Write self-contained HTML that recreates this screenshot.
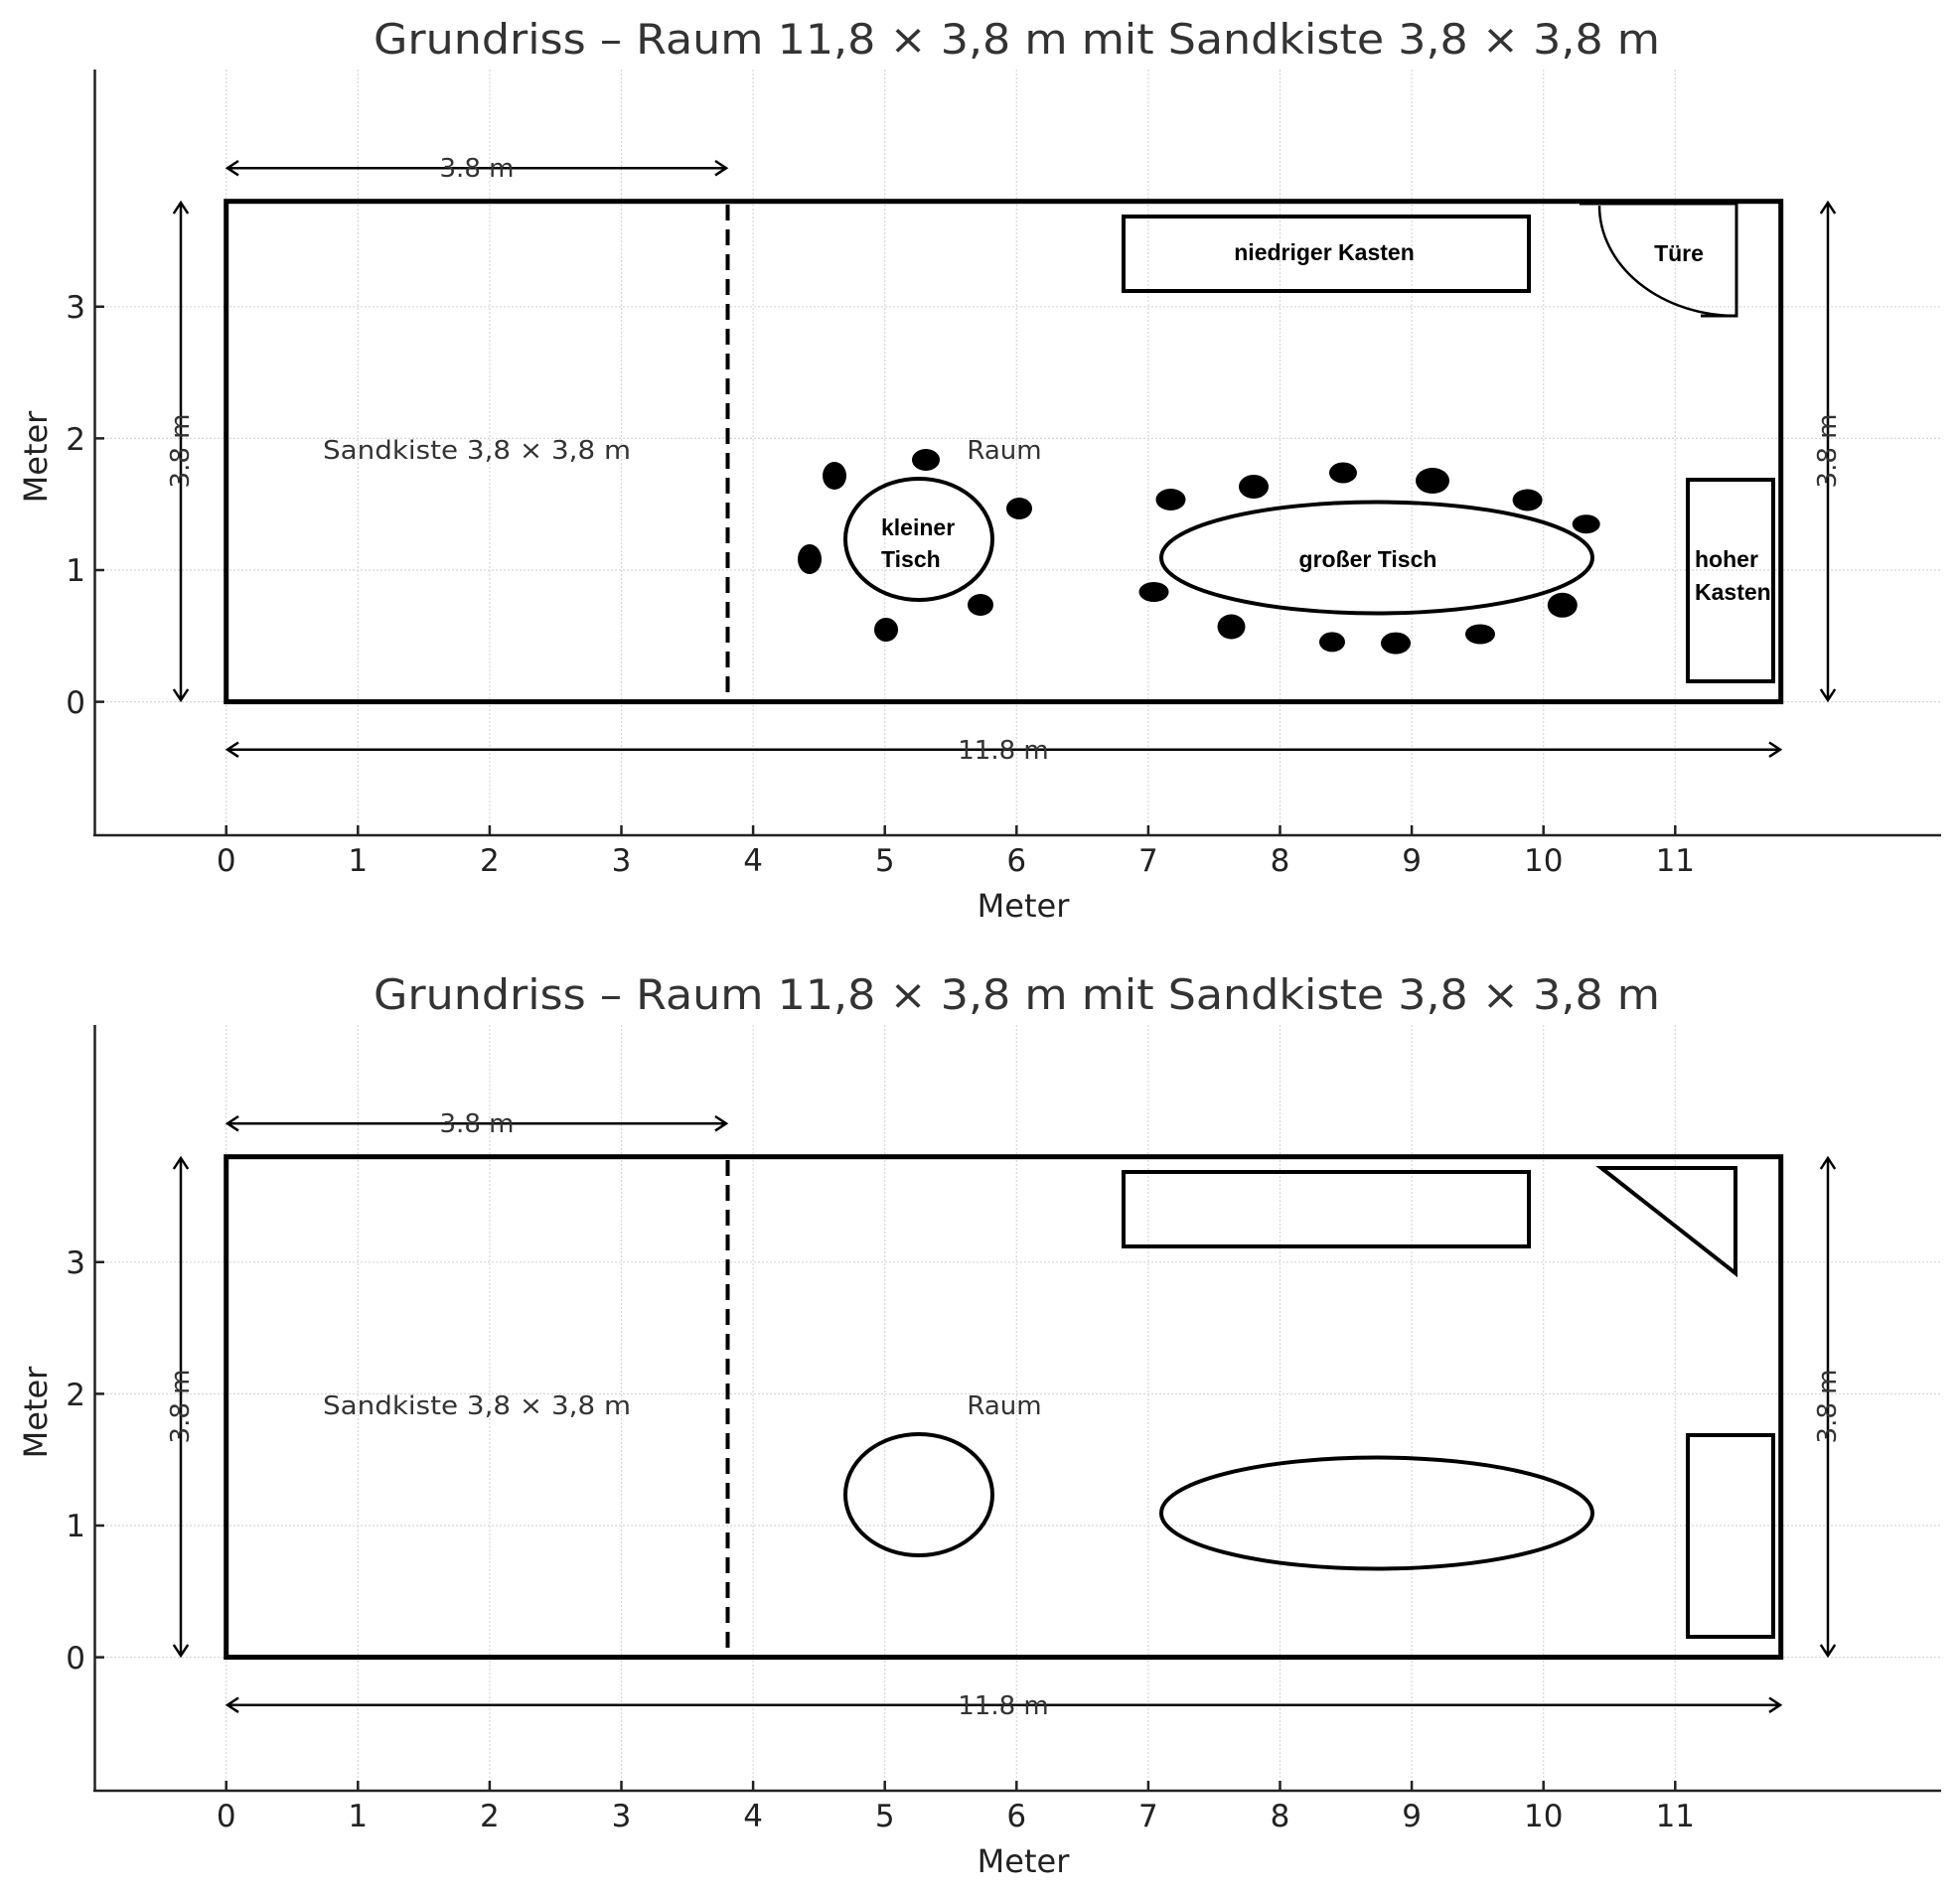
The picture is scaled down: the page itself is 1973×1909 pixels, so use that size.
<!DOCTYPE html>
<html><head><meta charset="utf-8"><style>
html,body{margin:0;padding:0;background:#fff;}
svg{display:block;}
text{font-family:"DejaVu Sans","Liberation Sans",sans-serif;}
.b{font-family:"Liberation Sans",sans-serif;font-weight:bold;font-size:23px;fill:#000;}
</style></head><body>
<svg width="1973" height="1909" viewBox="0 0 1973 1909" xmlns="http://www.w3.org/2000/svg">
<defs>
<g id="axes">
  <g stroke="#d8d8d8" stroke-width="1.2" stroke-dasharray="2,2">
    <line x1="227.7" y1="70" x2="227.7" y2="841"/><line x1="360.3" y1="70" x2="360.3" y2="841"/>
    <line x1="492.9" y1="70" x2="492.9" y2="841"/><line x1="625.5" y1="70" x2="625.5" y2="841"/>
    <line x1="758.1" y1="70" x2="758.1" y2="841"/><line x1="890.7" y1="70" x2="890.7" y2="841"/>
    <line x1="1023.3" y1="70" x2="1023.3" y2="841"/><line x1="1155.9" y1="70" x2="1155.9" y2="841"/>
    <line x1="1288.5" y1="70" x2="1288.5" y2="841"/><line x1="1421.1" y1="70" x2="1421.1" y2="841"/>
    <line x1="1553.7" y1="70" x2="1553.7" y2="841"/><line x1="1686.3" y1="70" x2="1686.3" y2="841"/>
    <line x1="95" y1="706.6" x2="1954" y2="706.6"/><line x1="95" y1="574" x2="1954" y2="574"/>
    <line x1="95" y1="441.4" x2="1954" y2="441.4"/><line x1="95" y1="308.8" x2="1954" y2="308.8"/>
  </g>
  <g stroke="#222" stroke-width="2.5" fill="none">
    <line x1="95.5" y1="70" x2="95.5" y2="842"/>
    <line x1="94" y1="841" x2="1954" y2="841"/>
    <path d="M227.7 841v-10M360.3 841v-10M492.9 841v-10M625.5 841v-10M758.1 841v-10M890.7 841v-10M1023.3 841v-10M1155.9 841v-10M1288.5 841v-10M1421.1 841v-10M1553.7 841v-10M1686.3 841v-10"/>
    <path d="M95 706.6h10M95 574h10M95 441.4h10M95 308.8h10"/>
  </g>
  <g font-size="31" fill="#222" text-anchor="middle">
    <text x="227.7" y="877">0</text><text x="360.3" y="877">1</text><text x="492.9" y="877">2</text>
    <text x="625.5" y="877">3</text><text x="758.1" y="877">4</text><text x="890.7" y="877">5</text>
    <text x="1023.3" y="877">6</text><text x="1155.9" y="877">7</text><text x="1288.5" y="877">8</text>
    <text x="1421.1" y="877">9</text><text x="1553.7" y="877">10</text><text x="1686.3" y="877">11</text>
  </g>
  <g font-size="31" fill="#222" text-anchor="end">
    <text x="86" y="718">0</text><text x="86" y="585">1</text><text x="86" y="453">2</text><text x="86" y="320">3</text>
  </g>
  <text x="1030" y="923" font-size="32" fill="#222" text-anchor="middle">Meter</text>
  <text transform="translate(47,460) rotate(-90)" font-size="32" fill="#222" text-anchor="middle">Meter</text>
  <text x="1023.5" y="54" font-size="42" fill="#333" text-anchor="middle" textLength="1295" lengthAdjust="spacingAndGlyphs">Grundriss – Raum 11,8 × 3,8 m mit Sandkiste 3,8 × 3,8 m</text>
  <rect x="227.7" y="202.7" width="1565" height="503.9" fill="none" stroke="#000" stroke-width="5"/>
  <line x1="732.5" y1="206" x2="732.5" y2="706" stroke="#000" stroke-width="4" stroke-dasharray="16,9"/>
  <g stroke="#000" stroke-width="2.5" fill="none">
    <line x1="229" y1="169.2" x2="731" y2="169.2"/>
    <path d="M240 162l-11 7.2 11 7.2M720 162l11 7.2-11 7.2"/>
    <line x1="229" y1="754.7" x2="1792" y2="754.7"/>
    <path d="M240 747.5l-11 7.2 11 7.2M1781 747.5l11 7.2-11 7.2"/>
    <line x1="182" y1="204" x2="182" y2="705"/>
    <path d="M174.8 215l7.2-11 7.2 11M174.8 694l7.2 11 7.2-11"/>
    <line x1="1840" y1="204" x2="1840" y2="705"/>
    <path d="M1832.8 215l7.2-11 7.2 11M1832.8 694l7.2 11 7.2-11"/>
  </g>
  <g font-size="26" fill="#333" text-anchor="middle">
    <text x="480" y="178">3.8 m</text>
    <text x="1010" y="764">11.8 m</text>
    <text transform="translate(190,454) rotate(-90)">3.8 m</text>
    <text transform="translate(1848,454) rotate(-90)">3.8 m</text>
    <text x="480" y="462" textLength="310" lengthAdjust="spacingAndGlyphs">Sandkiste 3,8 × 3,8 m</text>
    <text x="1011" y="462">Raum</text>
  </g>
  <g fill="none" stroke="#000" stroke-width="4">
    <rect x="1131" y="218" width="408" height="75"/>
    <rect x="1699" y="483" width="86" height="203"/>
    <ellipse cx="1386" cy="561.5" rx="217" ry="56"/>
    <ellipse cx="925" cy="543" rx="74" ry="61"/>
  </g>
</g>
</defs>
<use href="#axes"/>
<use href="#axes" transform="translate(0,962)"/>
<g fill="none" stroke="#000" stroke-width="3">
  <path d="M1590 205H1748V318H1712"/>
  <path d="M1610 207A138 111 0 0 0 1748 318" stroke-width="2.5"/>
</g>
<g fill="#000">
  <ellipse cx="840" cy="479" rx="12" ry="14"/><ellipse cx="932" cy="463" rx="14" ry="11"/>
  <ellipse cx="1026" cy="512" rx="13" ry="11"/><ellipse cx="815" cy="563" rx="12" ry="15"/>
  <ellipse cx="987" cy="609" rx="13" ry="11"/><ellipse cx="892" cy="634" rx="12" ry="12"/>
  <ellipse cx="1178.5" cy="503" rx="15" ry="11"/><ellipse cx="1262" cy="490" rx="15" ry="12"/>
  <ellipse cx="1352" cy="476" rx="14" ry="10.5"/><ellipse cx="1442" cy="484" rx="17" ry="13"/>
  <ellipse cx="1537.6" cy="503.5" rx="15" ry="11"/><ellipse cx="1596.7" cy="527.7" rx="14" ry="9.5"/>
  <ellipse cx="1161.5" cy="596" rx="15" ry="10"/><ellipse cx="1239.5" cy="631" rx="14" ry="12.5"/>
  <ellipse cx="1341" cy="646.4" rx="13" ry="10"/><ellipse cx="1405" cy="647.6" rx="15" ry="11"/>
  <ellipse cx="1490" cy="638.5" rx="15" ry="10"/><ellipse cx="1572.8" cy="609.3" rx="15" ry="12.5"/>
</g>
<text class="b" x="1333" y="262" text-anchor="middle">niedriger Kasten</text>
<text class="b" x="1690" y="263" text-anchor="middle">Türe</text>
<text class="b" x="1377" y="571" text-anchor="middle">großer Tisch</text>
<text class="b" x="1706" y="571">hoher</text>
<text class="b" x="1706" y="604">Kasten</text>
<text class="b" x="887" y="539">kleiner</text>
<text class="b" x="887" y="571">Tisch</text>
<path d="M1612 1176H1747V1282Z" fill="none" stroke="#000" stroke-width="4" stroke-linejoin="miter"/>
</svg>
</body></html>
